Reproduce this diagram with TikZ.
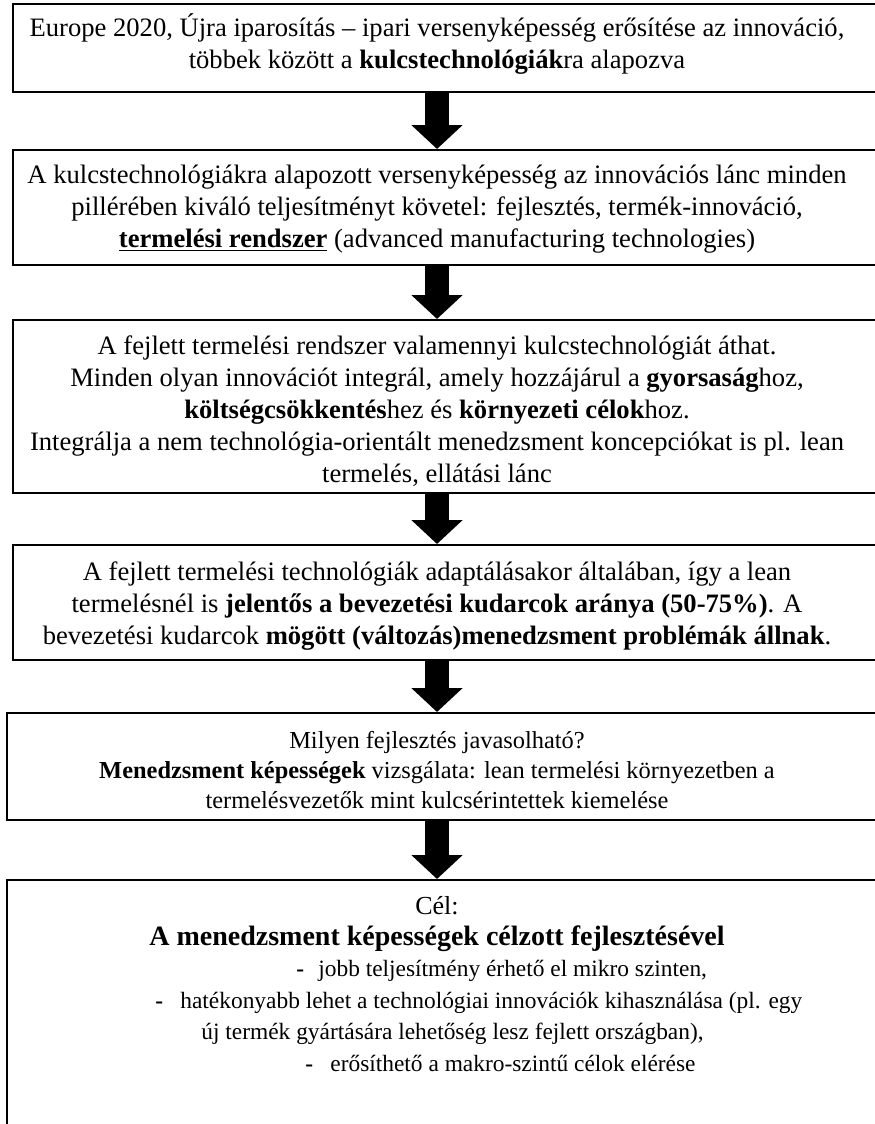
\documentclass[tikz,border=0pt]{standalone}
\usepackage{fontspec}
\setmainfont{Liberation Serif}
\usetikzlibrary{arrows.meta,fit}

\begin{document}
\begin{tikzpicture}[x=0.5pt,y=-0.5pt,
  box/.style={draw,line width=1pt,inner sep=0pt,rectangle},
  txt/.style={align=center,inner sep=0pt,font=\fontsize{13.3}{16}\selectfont},
  smalltxt/.style={txt,font=\fontsize{12.2}{15}\selectfont},
  flow/.style={line width=12pt,-{Triangle[width=25pt,length=12pt]}}]
\useasboundingbox (0,0) rectangle (874,1124);
% boxes (right edges run off the page)
\node[box,fit={(13,4) (890,92)}] (b1) {};
\node[box,fit={(13,150) (890,265)}] (b2) {};
\node[box,fit={(13,320) (890,493)}] (b3) {};
\node[box,fit={(13,545) (890,660)}] (b4) {};
\node[box,fit={(7,713) (890,820)}] (b5) {};
\node[box,fit={(7,880) (890,1140)}] (b6) {};
% texts
\node[txt] (t1) at (437,44) {Europe 2020, Újra iparosítás – ipari versenyképesség erősítése az innováció,\\
  többek között a \textbf{kulcstechnológiák}ra alapozva};
\node[txt] (t2) at (437,209) {A kulcstechnológiákra alapozott versenyképesség az innovációs lánc minden\\
  pillérében kiváló teljesítményt követel: fejlesztés, termék-innováció,\\
  \textbf{\underline{termelési rendszer}} (advanced manufacturing technologies)};
\node[txt] (t3) at (437,411) {A fejlett termelési rendszer valamennyi kulcstechnológiát áthat.\\
  Minden olyan innovációt integrál, amely hozzájárul a \textbf{gyorsaság}hoz,\\
  \textbf{költségcsökkentés}hez és \textbf{környezeti célok}hoz.\\
  Integrálja a nem technológia-orientált menedzsment koncepciókat is pl. lean\\
  termelés, ellátási lánc};
\node[txt] (t4) at (437,606) {A fejlett termelési technológiák adaptálásakor általában, így a lean\\
  termelésnél is \textbf{jelentős a bevezetési kudarcok aránya (50-75\%)}. A\\
  bevezetési kudarcok \textbf{mögött (változás)menedzsment problémák állnak}.};
\node[smalltxt] (t5) at (437,770) {Milyen fejlesztés javasolható?\\
  \textbf{Menedzsment képességek} vizsgálata: lean termelési környezetben a\\
  termelésvezetők mint kulcsérintettek kiemelése};
\node[smalltxt,font=\fontsize{13}{15.5}\selectfont] (t6) at (437,924) {Cél:\\
  {\fontsize{14}{15.5}\selectfont\textbf{A menedzsment képességek célzott fejlesztésével}}};
\node[smalltxt,align=left,anchor=west,font=\fontsize{11.7}{15.7}\selectfont] (t7) at (155,1016) {%
  \makebox[70.5pt]{}\makebox[11pt][l]{\textbf{-}}jobb teljesítmény érhető el mikro szinten,\\
  \makebox[12.5pt][l]{\textbf{-}}hatékonyabb lehet a technológiai innovációk kihasználása (pl. egy\\
  \makebox[23pt]{}új termék gyártására lehetőség lesz fejlett országban),\\
  \makebox[75pt]{}\makebox[12.5pt][l]{\textbf{-}}erősíthető a makro-szintű célok elérése};
% block arrows
\foreach \a/\b in {b1/b2,b2/b3,b3/b4,b4/b5,b5/b6}
  \draw[flow] (\a.south -| t1) -- (\b.north -| t1);
\end{tikzpicture}
\end{document}
